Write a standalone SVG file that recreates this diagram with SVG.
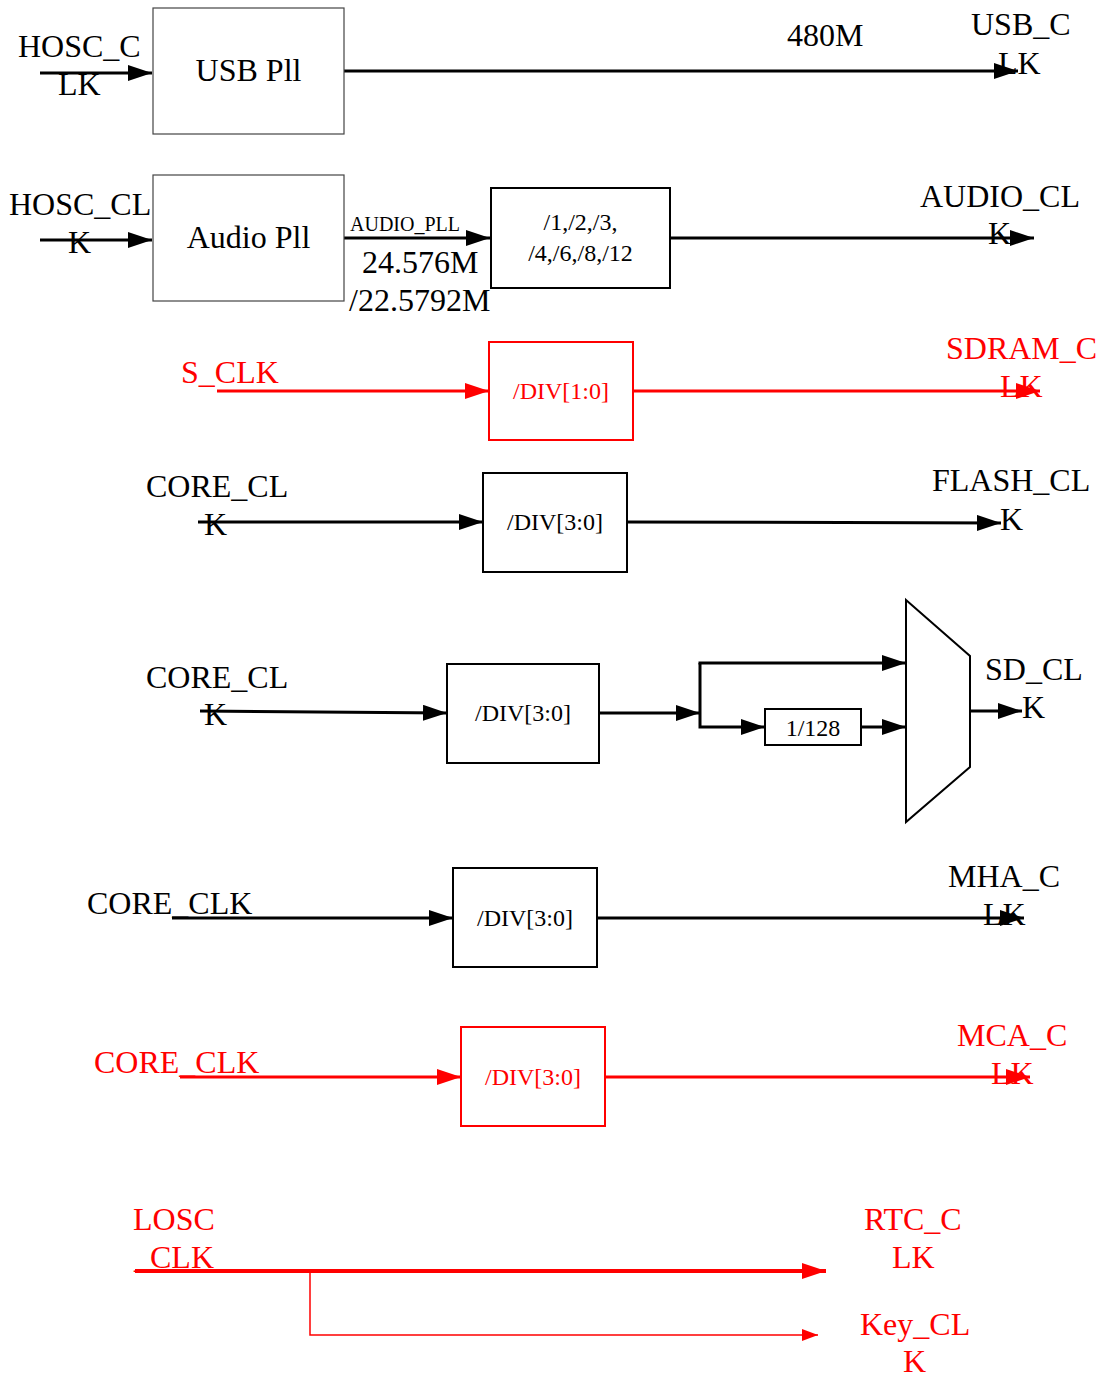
<svg xmlns="http://www.w3.org/2000/svg" width="1103" height="1378" viewBox="0 0 1103 1378">
<defs>
<style>
text{font-family:"Liberation Serif","Times New Roman",serif;fill:#000}
.b{font-size:32px}
.s{font-size:24px}
.xs{font-size:20px}
.r{fill:#f00}
.m{text-anchor:middle}
.lk{stroke:#000;stroke-width:3;fill:none}
.lr{stroke:#f00;stroke-width:3;fill:none}
.box{fill:#fff;stroke:#000;stroke-width:2}
.boxg{fill:#fff;stroke:#444;stroke-width:1.2}
.boxr{fill:#fff;stroke:#f00;stroke-width:2}
</style>
<marker id="ak" markerWidth="24" markerHeight="16" refX="24" refY="8" orient="auto" markerUnits="userSpaceOnUse"><path d="M0,0 L24,8 L0,16 z" fill="#000"/></marker>
<marker id="ar" markerWidth="24" markerHeight="16" refX="24" refY="8" orient="auto" markerUnits="userSpaceOnUse"><path d="M0,0 L24,8 L0,16 z" fill="#f00"/></marker>
<marker id="ars" markerWidth="16" markerHeight="12" refX="16" refY="6" orient="auto" markerUnits="userSpaceOnUse"><path d="M0,0 L16,6 L0,12 z" fill="#f00"/></marker>
</defs>

<g id="connectors">
<line class="lk" x1="40" y1="73" x2="152" y2="73" marker-end="url(#ak)"/>
<line class="lk" x1="344" y1="71" x2="1018" y2="71" marker-end="url(#ak)"/>
<line class="lk" x1="40" y1="240" x2="152" y2="240" marker-end="url(#ak)"/>
<line class="lk" x1="344" y1="238" x2="490" y2="238" marker-end="url(#ak)"/>
<line class="lk" x1="670" y1="238" x2="1034" y2="238" marker-end="url(#ak)"/>
<line class="lr" x1="217" y1="391" x2="489" y2="391" marker-end="url(#ar)"/>
<line class="lr" x1="633" y1="391" x2="1040" y2="391" marker-end="url(#ar)"/>
<line class="lk" x1="198" y1="522" x2="483" y2="522" marker-end="url(#ak)"/>
<line class="lk" x1="627" y1="522" x2="1001" y2="523" marker-end="url(#ak)"/>
<line class="lk" x1="200" y1="711" x2="447" y2="713" marker-end="url(#ak)"/>
<line class="lk" x1="599" y1="713" x2="700" y2="713" marker-end="url(#ak)"/>
<polyline class="lk" points="700,663 700,727 765,727" marker-end="url(#ak)"/>
<line class="lk" x1="698.5" y1="663" x2="906" y2="663" marker-end="url(#ak)"/>
<line class="lk" x1="861" y1="727" x2="906" y2="727" marker-end="url(#ak)"/>
<line class="lk" x1="970" y1="711" x2="1022" y2="711" marker-end="url(#ak)"/>
<line class="lk" x1="172" y1="918" x2="453" y2="918" marker-end="url(#ak)"/>
<line class="lk" x1="597" y1="918" x2="1024" y2="918" marker-end="url(#ak)"/>
<line class="lr" x1="180" y1="1077" x2="461" y2="1077" marker-end="url(#ar)"/>
<line class="lr" x1="605" y1="1077" x2="1030" y2="1077" marker-end="url(#ar)"/>
<line x1="135" y1="1271" x2="826" y2="1271" stroke="#f00" stroke-width="4" marker-end="url(#ar)"/>
<polyline points="310,1271 310,1335 818,1335" fill="none" stroke="#f00" stroke-width="1.5" marker-end="url(#ars)"/>
</g>

<g id="usb_pll"><rect class="boxg" x="153" y="8" width="191" height="126"/><text class="b m" x="248.5" y="81">USB Pll</text></g>
<g id="audio_pll"><rect class="boxg" x="153" y="175" width="191" height="126"/><text class="b m" x="248.5" y="248">Audio Pll</text></g>
<g id="audio_div"><rect class="box" x="491" y="188" width="179" height="100"/><text class="s m" x="580.5" y="230">/1,/2,/3,</text><text class="s m" x="580.5" y="261">/4,/6,/8,/12</text></g>
<g id="sdram_div"><rect class="boxr" x="489" y="342" width="144" height="98"/><text class="s m r" x="561" y="399">/DIV[1:0]</text></g>
<g id="flash_div"><rect class="box" x="483" y="473" width="144" height="99"/><text class="s m" x="555" y="530">/DIV[3:0]</text></g>
<g id="sd_div"><rect class="box" x="447" y="664" width="152" height="99"/><text class="s m" x="523" y="721">/DIV[3:0]</text></g>
<g id="div128"><rect class="box" x="765" y="709" width="96" height="36"/><text class="s m" x="813" y="736">1/128</text></g>
<g id="mux"><polygon points="906,600 970,656 970,767 906,822" fill="#fff" stroke="#000" stroke-width="2"/></g>
<g id="mha_div"><rect class="box" x="453" y="868" width="144" height="99"/><text class="s m" x="525" y="926">/DIV[3:0]</text></g>
<g id="mca_div"><rect class="boxr" x="461" y="1027" width="144" height="99"/><text class="s m r" x="533" y="1085">/DIV[3:0]</text></g>

<g id="labels">
<text class="b" x="18" y="57">HOSC_C</text><text class="b" x="58" y="95">LK</text>
<text class="b" x="787" y="46">480M</text>
<text class="b" x="971" y="35">USB_C</text><text class="b" x="998" y="74">LK</text>
<text class="b" x="9" y="215">HOSC_CL</text><text class="b" x="68" y="253">K</text>
<text class="xs" x="350" y="231">AUDIO_PLL</text>
<text class="b" x="362" y="273">24.576M</text>
<text class="b" x="349" y="311">/22.5792M</text>
<text class="b" x="920" y="207">AUDIO_CL</text><text class="b" x="988" y="244">K</text>
<text class="b r" x="181" y="383">S_CLK</text>
<text class="b r" x="946" y="359">SDRAM_C</text><text class="b r" x="1000" y="397">LK</text>
<text class="b" x="146" y="497">CORE_CL</text><text class="b" x="204" y="535">K</text>
<text class="b" x="932" y="491">FLASH_CL</text><text class="b" x="1000" y="530">K</text>
<text class="b" x="146" y="688">CORE_CL</text><text class="b" x="204" y="725">K</text>
<text class="b" x="985" y="680">SD_CL</text><text class="b" x="1022" y="718">K</text>
<text class="b" x="87" y="914">CORE_CLK</text>
<text class="b" x="948" y="887">MHA_C</text><text class="b" x="983" y="925">LK</text>
<text class="b r" x="94" y="1073">CORE_CLK</text>
<text class="b r" x="957" y="1046">MCA_C</text><text class="b r" x="991" y="1084">LK</text>
<text class="b r" x="133" y="1230">LOSC</text><text class="b r" x="134" y="1268">_CLK</text>
<text class="b r" x="864" y="1230">RTC_C</text><text class="b r" x="892" y="1268">LK</text>
<text class="b r" x="860" y="1335">Key_CL</text><text class="b r" x="903" y="1372">K</text>
</g>
</svg>
